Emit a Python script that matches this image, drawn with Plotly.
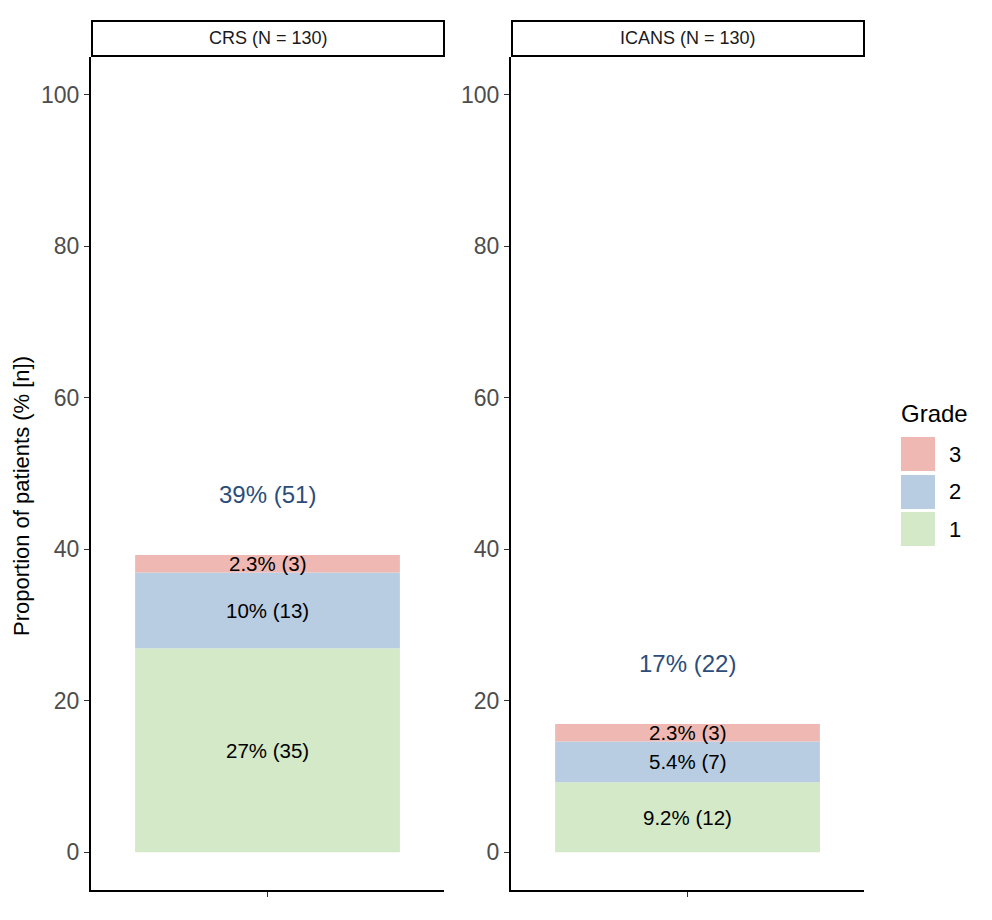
import plotly.graph_objects as go

panels = ["CRS (N = 130)", "ICANS (N = 130)"]
grades = ["1", "2", "3"]
colors = ["#d4e9c8", "#b8cce2", "#f0b8b3"]
N = 130
counts = {
    "CRS (N = 130)": [35, 13, 3],
    "ICANS (N = 130)": [12, 7, 3],
}
seg_labels = {
    "CRS (N = 130)": ["27% (35)", "10% (13)", "2.3% (3)"],
    "ICANS (N = 130)": ["9.2% (12)", "5.4% (7)", "2.3% (3)"],
}
total_labels = {"CRS (N = 130)": "39% (51)", "ICANS (N = 130)": "17% (22)"}
y_ticks = [0, 20, 40, 60, 80, 100]

# page has an 8px body margin: figure size/margins compensate
OFF = 8
W, H = 992 - OFF, 920 - OFF
PL, PR, PT, PB = 91, 864, 57, 890  # plot area in page pixels
ml, mr, mt, mb = PL - OFF, W + OFF - PR, PT - OFF, H + OFF - PB
pw = PR - PL
ph = PB - PT
px_domains = [(91, 444), (511, 864)]
domains = [((a - PL) / pw, (b - PL) / pw) for a, b in px_domains]


def ppx(xp):
    return (xp - PL) / pw


def ppy(yp):
    return (PB - yp) / ph


FONT = "Liberation Sans, Arial, Helvetica, sans-serif"
fig = go.Figure()
annotations = []
shapes = []

for i, p in enumerate(panels):
    xa = "x" if i == 0 else "x2"
    ya = "y" if i == 0 else "y2"
    base = 0.0
    for g, c, n, lab in zip(grades, colors, counts[p], seg_labels[p]):
        v = n / N * 100
        fig.add_trace(go.Bar(
            x=[1], y=[v], base=[base], width=[0.9], marker=dict(color=c, line=dict(width=0)),
            xaxis=xa, yaxis=ya, showlegend=False, name=g, hoverinfo="skip",
        ))
        annotations.append(dict(x=1, y=base + v / 2, xref=xa, yref=ya, text=lab, showarrow=False,
                                xanchor="center", yanchor="middle",
                                font=dict(size=20.5, color="#000000", family=FONT)))
        base += v
    annotations.append(dict(x=1, y=base + 8, xref=xa, yref=ya, text=total_labels[p], showarrow=False,
                            xanchor="center", yanchor="middle",
                            font=dict(size=24, color="#2c4d7a", family=FONT)))
    # strip
    x0 = domains[i][0] + 1 / pw
    x1 = domains[i][1]
    y0 = ppy(56)
    y1 = ppy(21)
    shapes.append(dict(type="rect", xref="paper", yref="paper", x0=x0, x1=x1, y0=y0, y1=y1,
                       line=dict(color="#000000", width=2), fillcolor="white"))
    annotations.append(dict(x=(x0 + x1) / 2, y=(y0 + y1) / 2, xref="paper", yref="paper", text=p,
                            showarrow=False, xanchor="center", yanchor="middle",
                            font=dict(size=18, color="#1a1a1a", family=FONT)))

axis_common = dict(showline=True, linecolor="#000000", linewidth=2, ticks="outside",
                   ticklen=5, tickcolor="#333333", tickwidth=1, showgrid=False, zeroline=False,
                   automargin=False)
for i in range(2):
    xk = "xaxis" if i == 0 else "xaxis2"
    yk = "yaxis" if i == 0 else "yaxis2"
    fig.update_layout(**{
        xk: dict(domain=list(domains[i]), range=[0.4, 1.6], tickvals=[1], ticktext=[""],
                 anchor="y" if i == 0 else "y2", **axis_common),
        yk: dict(domain=[0, 1], range=[-5, 105], tickvals=y_ticks,
                 tickfont=dict(size=23, color="#4d4d4d", family=FONT),
                 anchor="x" if i == 0 else "x2", **axis_common),
    })

# y axis title
annotations.append(dict(x=ppx(21), y=ppy(496), xref="paper", yref="paper",
                        text="Proportion of patients (% [n])", textangle=-90, showarrow=False,
                        xanchor="center", yanchor="middle",
                        font=dict(size=22, color="#000000", family=FONT)))

# legend (manual)
annotations.append(dict(x=ppx(899), y=ppy(413), xref="paper", yref="paper", text="Grade",
                        showarrow=False, xanchor="left", yanchor="middle",
                        font=dict(size=24, color="#000000", family=FONT)))
key_tops = {"3": 437, "2": 475, "1": 512}
for g, c in zip(grades, colors):
    t = key_tops[g]
    shapes.append(dict(type="rect", xref="paper", yref="paper", x0=ppx(901), x1=ppx(935),
                       y0=ppy(t + 34), y1=ppy(t), line=dict(width=0), fillcolor=c))
    annotations.append(dict(x=ppx(947), y=ppy(t + 17), xref="paper", yref="paper", text=g,
                            showarrow=False, xanchor="left", yanchor="middle",
                            font=dict(size=22, color="#000000", family=FONT)))

fig.update_layout(width=W, height=H, margin=dict(l=ml, r=mr, t=mt, b=mb),
                  plot_bgcolor="white", paper_bgcolor="white", barmode="overlay",
                  annotations=annotations, shapes=shapes, showlegend=False,
                  font=dict(family=FONT))
fig.write_html("out.html")
